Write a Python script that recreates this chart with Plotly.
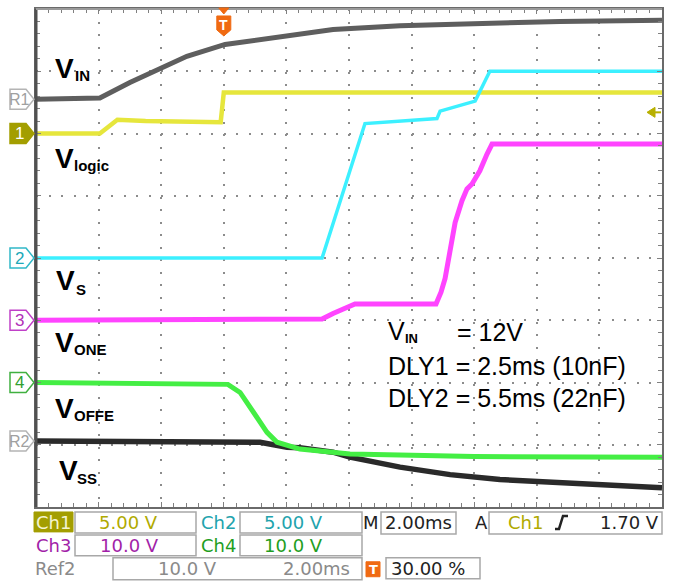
import plotly.graph_objects as go

# ---------------- data ----------------
# time axis in ms (2 ms/div, trigger at 30 % of screen -> -6 ... 14 ms)
t_vin = [-6, -3.96, -3.0, -2.04, -1.18, 0.04, 2.02, 3.49, 5.63, 7.23, 8.82, 10.74, 14]
v_vin = [0, 0.2, 2.7, 5.0, 6.9, 8.8, 10.1, 11.2, 11.8, 12.0, 12.2, 12.5, 12.7]

t_logic = [-6, -3.96, -3.4, -2.5, -0.1, 0.0, 14]
v_logic = [0, 0, 1.1, 1.0, 0.9, 3.3, 3.3]

t_vs = [-6, 3.14, 4.51, 6.81, 6.91, 8.03, 8.5, 14]
v_vs = [0, 0, 10.8, 11.2, 11.8, 12.6, 15.0, 15.0]

t_vone = [-6, 3.14, 3.49, 4.19, 6.78, 6.94, 7.07, 7.23, 7.39, 7.61, 7.77, 7.93, 8.18, 8.41, 8.57, 14]
v_vone = [0, 0.2, 1.1, 2.6, 2.6, 4.5, 6.7, 11.7, 15.7, 19.2, 21.1, 21.9, 24.0, 26.7, 28.3, 28.3]

t_voffe = [-6, 0.13, 0.52, 0.93, 1.38, 1.70, 2.43, 4.03, 8.0, 14]
v_voffe = [0, -0.3, -1.6, -4.8, -8.0, -9.6, -10.7, -11.5, -11.9, -12.0]

t_vss = [-6, 1.16, 2.02, 2.43, 3.49, 4.03, 5.63, 7.23, 8.82, 10.42, 12.02, 14]
v_vss = [0, -0.2, -1.0, -1.1, -1.8, -2.6, -4.2, -5.4, -6.2, -6.6, -7.0, -7.5]

# scope settings: ground position (div from bottom) and V/div
ch_names = ["R1", "1", "2", "3", "4", "R2"]
ch_pos = [6.55, 6.0, 4.0, 3.0, 2.0, 1.06]
ch_scale = [10.0, 5.0, 5.0, 10.0, 10.0, 10.0]
trig_level = 1.70  # V on Ch1

trace_labels = ["IN", "logic", "S", "ONE", "OFFE", "SS"]

# ---------------- geometry helpers ----------------
W, H = 674, 582
ML, MR, MT, MB = 36, 12, 7, 75
PW, PH = W - ML - MR, H - MT - MB
DIV = PH / 8.0


def fx(px):
    return (px - ML) / PW


def fy(py):
    return (H - MB - py) / PH


def to_div(vals, pos, scale):
    return [pos + v / scale for v in vals]


FONT = "Liberation Sans, Arial, sans-serif"
SCOPE_FONT = "DejaVu Sans, sans-serif"

C_YEL = "#e6e63c"
C_CYAN = "#3cf0ff"
C_MAG = "#ff44ff"
C_GRN = "#44ee44"
C_VIN = "#5e5e5e"
C_VSS = "#2a2a2a"
C_OLIVE = "#a39e00"
C_ORANGE = "#f06a12"

fig = go.Figure()

series = [
    (t_vin, v_vin, 0, C_VIN, 5),
    (t_vss, v_vss, 5, C_VSS, 5.5),
    (t_logic, v_logic, 1, C_YEL, 4.5),
    (t_vs, v_vs, 2, C_CYAN, 3.5),
    (t_vone, v_vone, 3, C_MAG, 5),
    (t_voffe, v_voffe, 4, C_GRN, 5),
]
for t, v, ci, col, wd in series:
    fig.add_trace(go.Scatter(
        x=t, y=to_div(v, ch_pos[ci], ch_scale[ci]), mode="lines",
        line=dict(color=col, width=wd), hoverinfo="skip", showlegend=False))

shapes = []
ann = []

# border emphasis (dark left & bottom, lighter top)
shapes.append(dict(type="line", xref="paper", yref="paper", x0=0, x1=0, y0=0, y1=1,
                   line=dict(color="#505050", width=3)))
shapes.append(dict(type="line", xref="paper", yref="paper", x0=0, x1=1, y0=1, y1=1,
                   line=dict(color="#9a9a9a", width=2)))

# channel tags on the left
tag_style = {
    "R1": ("#ffffff", "#b4b4b4", "#a0a0a0"),
    "1": (C_OLIVE, C_OLIVE, "#ffffff"),
    "2": ("#ffffff", "#30b8c8", "#20a8b8"),
    "3": ("#ffffff", "#c040c8", "#b030b8"),
    "4": ("#ffffff", "#40b040", "#30a030"),
    "R2": ("#ffffff", "#b4b4b4", "#a0a0a0"),
}
for name, pos in zip(ch_names, ch_pos):
    fill, line_c, txt_c = tag_style[name]
    h = 10 / DIV
    xl, xb, xt = fx(10), fx(26), fx(34)
    path = (f"M{xl},{pos + h} L{xb},{pos + h} L{xt},{pos} L{xb},{pos - h} "
            f"L{xl},{pos - h} Z")
    shapes.append(dict(type="path", xref="paper", yref="y", path=path,
                       fillcolor=fill, line=dict(color=line_c, width=1.5), layer="above"))
    ann.append(dict(xref="paper", yref="y", x=fx(19), y=pos, text=name, showarrow=False,
                    font=dict(family=FONT, size=17 if len(name) == 1 else 16, color=txt_c),
                    xanchor="center", yanchor="middle"))

# trigger level arrow on the right (Ch1)
ty = ch_pos[1] + trig_level / ch_scale[1]
hh = 5 / DIV
shapes.append(dict(type="path", xref="paper", yref="y",
                   path=f"M{fx(647)},{ty} L{fx(655)},{ty + hh} L{fx(655)},{ty - hh} Z",
                   fillcolor="#b8b000", line=dict(color="#b8b000", width=1)))
shapes.append(dict(type="line", xref="paper", yref="y", x0=fx(654), x1=fx(661), y0=ty, y1=ty,
                   line=dict(color="#b8b000", width=2)))

# trigger position marker at top
tx = 0.3
shapes.append(dict(type="path", xref="paper", yref="paper",
                   path=f"M{tx - 5 / PW},{fy(6)} L{tx + 5 / PW},{fy(6)} L{tx},{fy(12)} Z",
                   fillcolor=C_ORANGE, line=dict(color=C_ORANGE, width=1)))
shapes.append(dict(type="path", xref="paper", yref="paper",
                   path=(f"M{tx - 7 / PW},{fy(14)} L{tx + 7 / PW},{fy(14)} L{tx + 7 / PW},{fy(28)} "
                         f"L{tx},{fy(34)} L{tx - 7 / PW},{fy(28)} Z"),
                   fillcolor=C_ORANGE, line=dict(color=C_ORANGE, width=1)))
ann.append(dict(xref="paper", yref="paper", x=tx, y=fy(23), text="<b>T</b>", showarrow=False,
                font=dict(family=FONT, size=14, color="white"), xanchor="center", yanchor="middle"))

# trace name labels  (V + subscript)
v_pos = [(54, 67), (54, 157), (55, 280), (54, 342), (54, 408), (58, 470)]
s_pos = [(74, 74), (73, 164), (75, 289), (73, 349), (73, 415), (76, 478)]
for lab, (vx, vy), (sx, sy) in zip(trace_labels, v_pos, s_pos):
    ann.append(dict(xref="paper", yref="paper", x=fx(vx), y=fy(vy), text="<b>V</b>",
                    showarrow=False, font=dict(family=FONT, size=28, color="black"),
                    xanchor="left", yanchor="middle", borderpad=0))
    ann.append(dict(xref="paper", yref="paper", x=fx(sx), y=fy(sy), text=f"<b>{lab}</b>",
                    showarrow=False, font=dict(family=FONT, size=15, color="black"),
                    xanchor="left", yanchor="middle", borderpad=0))

# info block
ann.append(dict(xref="paper", yref="paper", x=fx(387), y=fy(330), text="V", showarrow=False,
                font=dict(family=FONT, size=25, color="black"), xanchor="left", yanchor="middle",
                borderpad=0))
ann.append(dict(xref="paper", yref="paper", x=fx(404), y=fy(338), text="<b>IN</b>", showarrow=False,
                font=dict(family=FONT, size=13, color="black"), xanchor="left", yanchor="middle",
                borderpad=0))
ann.append(dict(xref="paper", yref="paper", x=fx(456), y=fy(331), text="= 12V", showarrow=False,
                font=dict(family=FONT, size=25, color="black"), xanchor="left", yanchor="middle",
                borderpad=0))
for txt, cy in [("DLY1 = 2.5ms (10nF)", 365), ("DLY2 = 5.5ms (22nF)", 398)]:
    ann.append(dict(xref="paper", yref="paper", x=fx(387), y=fy(cy), text=txt, showarrow=False,
                    font=dict(family=FONT, size=25, color="black"), xanchor="left",
                    yanchor="middle", borderpad=0))

# ---------------- status panel below the graticule ----------------
def box(x0, y0, x1, y1, fill="white", line="#a8a8a8", width=1.5):
    shapes.append(dict(type="rect", xref="paper", yref="paper", x0=fx(x0), x1=fx(x1),
                       y0=fy(y1), y1=fy(y0), fillcolor=fill, line=dict(color=line, width=width)))


def ptext(x, y, s, color, anchor="center", size=18):
    ann.append(dict(xref="paper", yref="paper", x=fx(x), y=fy(y), text=s, showarrow=False,
                    font=dict(family=SCOPE_FONT, size=size, color=color), xanchor=anchor,
                    yanchor="middle", borderpad=0))


C1T, C2T, C3T, C4T, GR = "#b0aa00", "#22a3ad", "#a21fa8", "#1f9e1f", "#8a8a8a"
r1, r2, r3 = 522.5, 545.5, 569

box(34, 512, 73, 532, fill=C_OLIVE, line=C_OLIVE, width=1)
box(75, 512, 196, 533)
box(240, 512, 362, 533)
box(381, 512, 456, 534)
box(489, 512, 662, 534)
box(75, 535, 196, 556)
box(240, 535, 362, 556)
box(113, 558, 362, 580)
box(386, 558, 480, 579)
box(366, 562, 380, 577, fill=C_ORANGE, line=C_ORANGE, width=1)

ptext(53.5, r1, "Ch1", "#f4f4d0")
ptext(128, r1, "5.00 V", C1T)
ptext(218, r1, "Ch2", C2T)
ptext(293, r1, "5.00 V", C2T)
ptext(371, r1, "M", "#222222")
ptext(418, r1, "2.00ms", "#222222")
ptext(481, r1, "A", "#222222")
ptext(525, r1, "Ch1", C1T)
ptext(660, r1, "1.70 V", "#222222", anchor="right")
shapes.append(dict(type="path", xref="paper", yref="paper",
                   path=(f"M{fx(555)},{fy(529)} L{fx(559)},{fy(529)} L{fx(563)},{fy(516)} "
                         f"L{fx(568)},{fy(516)}"),
                   line=dict(color="#222222", width=2.5)))

ptext(53, r2, "Ch3", C3T)
ptext(129, r2, "10.0 V", C3T)
ptext(218, r2, "Ch4", C4T)
ptext(293, r2, "10.0 V", C4T)

ptext(34, r3, "Ref2", GR, anchor="left")
ptext(187, r3, "10.0 V", GR)
ptext(316, r3, "2.00ms", GR)
ptext(373, r3 + 0.5, "<b>T</b>", "white", size=13)
ptext(428, r3, "30.00 %", "#222222")

axis_common = dict(showticklabels=False, zeroline=False, showline=True, linecolor="#6a6a6a",
                   linewidth=2, mirror="ticks", ticks="inside", ticklen=5, tickwidth=1,
                   tickcolor="#808080", gridcolor="#8c8c8c", gridwidth=2, fixedrange=True)

fig.update_layout(
    width=W, height=H, margin=dict(l=ML, r=MR, t=MT, b=MB),
    paper_bgcolor="white", plot_bgcolor="white", showlegend=False,
    xaxis=dict(range=[-6, 14], dtick=2, tick0=-6, griddash="2px,10.5px",
               minor=dict(dtick=0.4, tick0=-6, ticks="inside", ticklen=4, tickcolor="#808080",
                          showgrid=False), **axis_common),
    yaxis=dict(range=[0, 8], dtick=1, tick0=0, griddash="2px,10.52px",
               minor=dict(dtick=0.2, tick0=0, ticks="inside", ticklen=4, tickcolor="#808080",
                          showgrid=False), **axis_common),
    shapes=shapes, annotations=ann,
)

fig.write_html("out.html", config={"displayModeBar": False, "staticPlot": True},
               post_script="document.body.style.margin='0';document.body.style.overflow='hidden';")
